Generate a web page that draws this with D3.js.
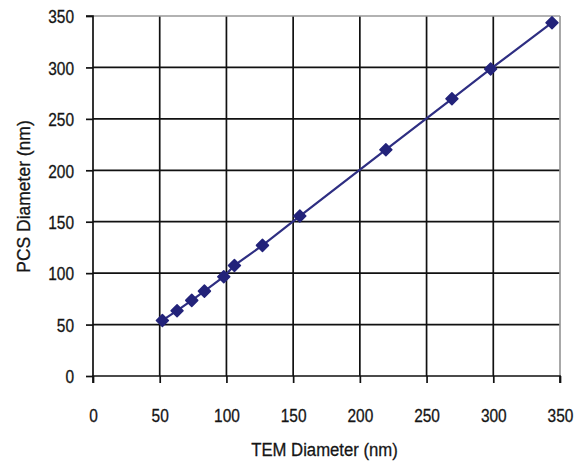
<!DOCTYPE html>
<html>
<head>
<meta charset="utf-8">
<script src="https://cdn.jsdelivr.net/npm/d3@7/dist/d3.min.js"></script>
<style>
  html, body { margin: 0; padding: 0; background: #fff; }
  svg { display: block; }
  text { font-family: "Liberation Sans", Arial, sans-serif; fill: #151515; stroke: #151515; stroke-width: 0.3px; }
</style>
</head>
<body>
<svg id="chart" width="579" height="461"></svg>
<script>
// TEM vs PCS particle diameters (nm)
const temDiameter = [52, 63, 74, 83.5, 98, 106, 127, 155, 219.5, 269, 298, 344];
const pcsDiameter = [54, 63.5, 73.5, 82.5, 96.5, 107.5, 127, 155.5, 220, 269.5, 298.5, 343.5];
const xTicks = [0, 50, 100, 150, 200, 250, 300, 350];
const yTicks = [0, 50, 100, 150, 200, 250, 300, 350];

const svg = d3.select("#chart");
const plotL = 93, plotR = 560, plotT = 16, plotB = 376;
const narrow = 0.86; // horizontal squeeze for a condensed look

const x = d3.scaleLinear().domain([0, 350]).range([plotL, plotR]);
const y = d3.scaleLinear().domain([0, 350]).range([plotB, plotT]);

// grid
const grid = svg.append("g");
grid.selectAll("line.v").data(xTicks.filter(d => d > 0 && d < 350)).enter().append("line")
  .attr("x1", d => x(d)).attr("x2", d => x(d)).attr("y1", plotT).attr("y2", plotB)
  .attr("stroke", "#111").attr("stroke-width", 1.7);
grid.selectAll("line.h").data(yTicks.filter(d => d > 0 && d < 350)).enter().append("line")
  .attr("x1", plotL).attr("x2", plotR).attr("y1", d => y(d)).attr("y2", d => y(d))
  .attr("stroke", "#111").attr("stroke-width", 1.7);
// top and right frame
svg.append("line").attr("x1", plotL).attr("x2", plotR).attr("y1", plotT).attr("y2", plotT)
  .attr("stroke", "#999").attr("stroke-width", 1.7);
svg.append("line").attr("x1", plotR).attr("x2", plotR).attr("y1", plotT).attr("y2", plotB)
  .attr("stroke", "#999").attr("stroke-width", 1.7);

// axes
const xAxis = d3.axisBottom(x).tickValues(xTicks).tickSize(7).tickPadding(26);
const yAxis = d3.axisLeft(y).tickValues(yTicks).tickSize(7).tickPadding(12);

const gx = svg.append("g").attr("transform", `translate(0,${plotB})`).call(xAxis);
const gy = svg.append("g").attr("transform", `translate(${plotL},0)`).call(yAxis);
[gx, gy].forEach(g => {
  g.select(".domain").attr("stroke", "#111").attr("stroke-width", 1.7);
  g.selectAll(".tick line").attr("stroke", "#111").attr("stroke-width", 1.7);
  g.selectAll(".tick text").style("font-size", "18px").attr("fill", "#151515");
});
gx.selectAll(".tick text").attr("transform", `scale(${narrow},1)`);
gy.selectAll(".tick text").attr("transform", `scale(${narrow},1)`).attr("x", -19 / narrow).attr("dy", "0.38em");
gy.select(".domain").attr("d", `M-7,${plotT}H0V${plotB}`);
gx.select(".domain").attr("d", `M${plotL},7V0H${plotR}V7`);

// data line and markers
const pts = temDiameter.map((d, i) => [d, pcsDiameter[i]]);
svg.append("path").datum(pts)
  .attr("d", d3.line().x(d => x(d[0])).y(d => y(d[1])))
  .attr("fill", "none").attr("stroke", "#2e2e82").attr("stroke-width", 2.2);
svg.selectAll("path.mk").data(pts).enter().append("path")
  .attr("transform", d => `translate(${x(d[0])},${y(d[1])})`)
  .attr("d", "M0,-6L6,0L0,6L-6,0Z")
  .attr("fill", "#23237a").attr("stroke", "#23237a").attr("stroke-width", 1.5).attr("stroke-linejoin", "round");

// axis titles
svg.append("text").attr("transform", `translate(324.5,456) scale(0.88,1)`)
  .attr("text-anchor", "middle").style("font-size", "19px").text("TEM Diameter (nm)");
svg.append("text").attr("transform", `translate(30,196.5) rotate(-90) scale(0.92,1)`)
  .attr("text-anchor", "middle").style("font-size", "19px").text("PCS Diameter (nm)");
</script>
</body>
</html>
